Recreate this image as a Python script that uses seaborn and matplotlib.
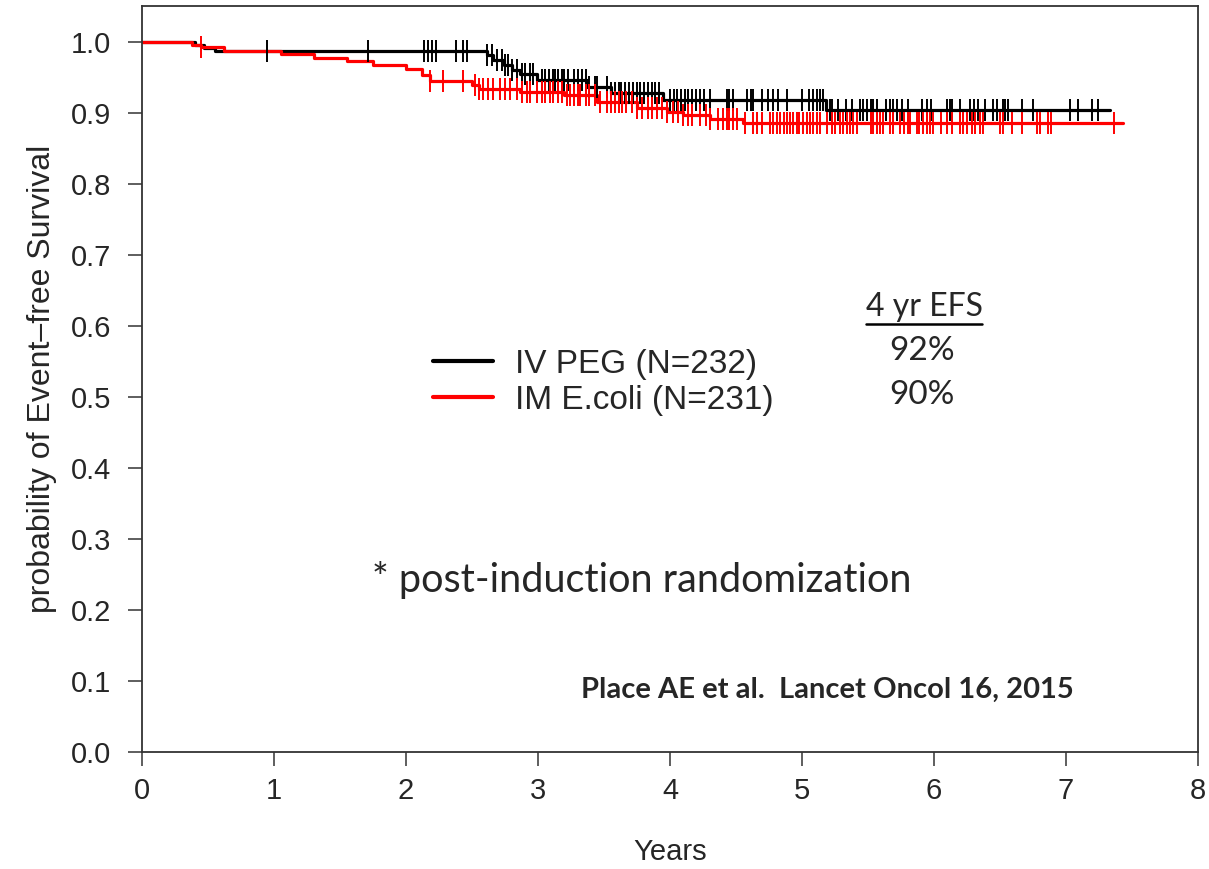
import numpy as np
import pandas as pd
import matplotlib
matplotlib.use("Agg")
import matplotlib.pyplot as plt
from matplotlib.lines import Line2D
import seaborn as sns

# Curvas de supervivencia (tiempo en años, prob. EFS)
peg_t = [0, 0.40, 0.47, 0.55, 2.61, 2.66, 2.74, 2.80, 2.86, 2.99, 3.37, 3.55, 3.95, 5.18, 7.33]
peg_s = [1.0, 0.996, 0.992, 0.987, 0.982, 0.975, 0.968, 0.961, 0.955, 0.946, 0.937, 0.928, 0.918, 0.904, 0.904]

ecoli_t = [0, 0.38, 0.45, 0.62, 1.05, 1.30, 1.55, 1.75, 2.00, 2.12, 2.18, 2.50, 2.55, 2.86,
           3.20, 3.45, 3.75, 3.98, 4.10, 4.30, 4.55, 7.43]
ecoli_s = [1.0, 0.996, 0.993, 0.987, 0.983, 0.978, 0.973, 0.968, 0.962, 0.953, 0.945, 0.939,
           0.934, 0.930, 0.925, 0.915, 0.907, 0.902, 0.897, 0.892, 0.886, 0.886]

# Censurados (marcas verticales)
peg_censor = [0.95, 1.71, 2.14, 2.17, 2.20, 2.23, 2.38, 2.43, 2.46,
              2.61, 2.65, 2.69, 2.73, 2.75, 2.77, 2.80, 2.84, 2.88, 2.90, 2.94, 2.96,
              3.03, 3.05, 3.08, 3.11, 3.13, 3.15, 3.18, 3.20, 3.23, 3.27, 3.30, 3.33, 3.36, 3.39, 3.43, 3.45,
              3.52, 3.55, 3.58, 3.61, 3.63, 3.66, 3.69, 3.72, 3.75, 3.77, 3.80, 3.83, 3.86, 3.89, 3.92,
              4.00, 4.03, 4.05, 4.08, 4.11, 4.14, 4.17, 4.20, 4.23, 4.26, 4.30,
              4.43, 4.45, 4.48, 4.58, 4.61, 4.63, 4.70, 4.74, 4.78, 4.82, 4.89, 5.00, 5.05, 5.08, 5.11, 5.14, 5.16,
              5.21, 5.23, 5.27, 5.33, 5.38, 5.44, 5.46, 5.49, 5.52, 5.54, 5.57, 5.64, 5.67, 5.69, 5.72, 5.76,
              5.80, 5.91, 5.95, 5.98, 6.10, 6.12, 6.14, 6.20, 6.27, 6.30, 6.33, 6.39, 6.45, 6.48, 6.52, 6.54,
              6.56, 6.67, 6.75, 7.03, 7.09, 7.20, 7.24]

ecoli_censor = [0.45, 2.18, 2.28, 2.43, 2.52, 2.55, 2.58, 2.62, 2.66, 2.71, 2.75, 2.79, 2.84, 2.88, 2.92,
                2.94, 2.99, 3.03, 3.05, 3.09, 3.11, 3.15, 3.18, 3.22, 3.24, 3.27, 3.30, 3.32, 3.36, 3.39,
                3.43, 3.47, 3.52, 3.55, 3.58, 3.61, 3.64, 3.67, 3.71, 3.75, 3.79, 3.83, 3.86, 3.90, 3.94,
                3.98, 4.02, 4.06, 4.10, 4.14, 4.17, 4.23, 4.27, 4.30, 4.36, 4.40,
                4.43, 4.45, 4.48, 4.51, 4.57, 4.63, 4.66, 4.70, 4.76, 4.78, 4.81, 4.83, 4.86, 4.89, 4.91,
                4.93, 4.96, 4.98, 5.01, 5.04, 5.06, 5.08, 5.11, 5.14, 5.19, 5.23, 5.25, 5.29, 5.31, 5.34,
                5.36, 5.39, 5.42, 5.52, 5.54, 5.57, 5.59, 5.61, 5.67, 5.69, 5.74, 5.77, 5.80, 5.82, 5.87,
                5.89, 5.92, 5.95, 5.97, 5.99, 6.05, 6.10, 6.14, 6.20, 6.22, 6.25, 6.29, 6.31, 6.35, 6.37,
                6.50, 6.52, 6.59, 6.67, 6.78, 6.80, 6.86, 6.89, 7.36]

labels = ["IV PEG (N=232)", "IM E.coli (N=231)"]
colores = ["black", "#ff0000"]
efs_4yr = ["92%", "90%"]


def prob_en(t_censor, t_steps, s_steps):
    # valor de la curva escalonada en cada tiempo censurado
    idx = np.searchsorted(t_steps, t_censor, side="right") - 1
    return np.array(s_steps)[idx]


sns.set_style("ticks")
plt.rcParams['font.family'] = ['Liberation Sans', 'DejaVu Sans']
calibri = ["Lato", "DejaVu Sans"]

fig = plt.figure(figsize=(12.09, 8.69), dpi=100)
ax = fig.add_axes([142 / 1209, 117 / 869, 1056 / 1209, 746 / 869])

curvas = [(peg_t, peg_s, peg_censor), (ecoli_t, ecoli_s, ecoli_censor)]
for (tt, ss, cc), lab, col in zip(curvas, labels, colores):
    df = pd.DataFrame({"t": tt, "s": ss})
    sns.lineplot(data=df, x="t", y="s", drawstyle="steps-post", color=col,
                 linewidth=2.3, label=lab, ax=ax, estimator=None, sort=False)
    dfc = pd.DataFrame({"t": cc, "s": prob_en(cc, tt, ss)})
    sns.scatterplot(data=dfc, x="t", y="s", marker="|", s=260, color=col,
                    linewidth=1.4, legend=False, ax=ax, zorder=3)

ax.set_xlim(0, 8)
ax.set_ylim(0, 1.0507)
ax.set_xticks(range(0, 9))
ax.set_yticks(np.round(np.arange(0, 1.01, 0.1), 1))
ax.set_yticklabels([f"{v:.1f}" for v in np.arange(0, 1.01, 0.1)])
ax.tick_params(axis="both", direction="out", length=10, width=1.1, labelsize=21,
               color="#333333")
ax.tick_params(axis="y", pad=12)
ax.tick_params(axis="x", pad=8)
for sp in ax.spines.values():
    sp.set_visible(True)
    sp.set_linewidth(1.3)
    sp.set_color("#333333")

ax.set_xlabel("Years", fontsize=21, labelpad=24)
ax.set_ylabel("probability of Event\u2013free Survival", fontsize=23, labelpad=10)

leg = ax.legend(loc="center left", bbox_to_anchor=(433 / 1209, 1 - 382 / 869),
                bbox_transform=fig.transFigure, frameon=False, fontsize=24,
                handlelength=1.8, handletextpad=0.66, labelspacing=0.15,
                borderpad=0, borderaxespad=0)
for h in leg.get_lines():
    h.set_linewidth(3)

# textos de anotacion (letra tipo Calibri)
titulo = fig.text(924 / 1209, 1 - 307 / 869, "4 yr EFS", ha="center", va="center",
                  fontsize=23, family=calibri)
fig.text(922 / 1209, 1 - 351 / 869, efs_4yr[0], ha="center", va="center",
         fontsize=24, family=calibri)
fig.text(922 / 1209, 1 - 395 / 869, efs_4yr[1], ha="center", va="center",
         fontsize=24, family=calibri)
fig.text(642 / 1209, 1 - 580 / 869, "* post-induction randomization", ha="center",
         va="center", fontsize=28.5, family=calibri)
fig.text(827 / 1209, 1 - 690 / 869, "Place AE et al.  Lancet Oncol 16, 2015", ha="center",
         va="center", fontsize=21, fontweight="bold", family=calibri)

# subrayado de "4 yr EFS"
fig.canvas.draw()
bb = titulo.get_window_extent().transformed(fig.transFigure.inverted())
fig.add_artist(Line2D([bb.x0, bb.x1], [bb.y0 - 0.002, bb.y0 - 0.002],
                      transform=fig.transFigure, color="black", linewidth=1.8))

fig.savefig("out.png", dpi=100)
